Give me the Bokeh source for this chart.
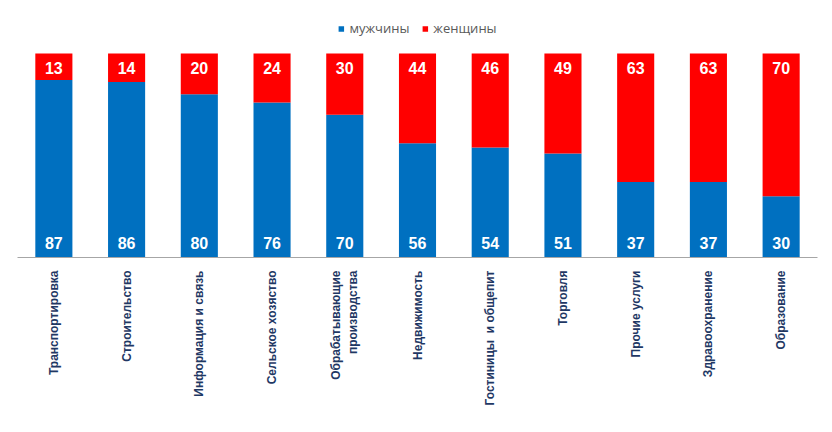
import math
from bokeh.plotting import figure
from bokeh.models import ColumnDataSource, FactorRange, Range1d, Legend, LegendItem
from bokeh.core.properties import value
from bokeh.embed import file_html
from bokeh.resources import INLINE

categories = ["Транспортировка", "Строительство", "Информация и связь", "Сельское хозяство",
              "Обрабатывающие\nпроизводства", "Недвижимость", "Гостиницы\u00a0 и общепит",
              "Торговля", "Прочие услуги", "Здравоохранение", "Образование"]
men = [87, 86, 80, 76, 70, 56, 54, 51, 37, 37, 30]
women = [13, 14, 20, 24, 30, 44, 46, 49, 63, 63, 70]
series_names = ["мужчины", "женщины"]
colors = ["#0070C0", "#FF0000"]

top = [m + w for m, w in zip(men, women)]
src = ColumnDataSource(dict(cat=categories, men=men, women=women, top=top,
                            zero=[0] * len(men),
                            men_txt=[str(v) for v in men],
                            women_txt=[str(v) for v in women]))

p = figure(width=826, height=416, x_range=FactorRange(*categories), y_range=Range1d(0, 117.2),
           output_backend="svg", toolbar_location=None,
           min_border_left=17, min_border_right=9, min_border_top=18, min_border_bottom=159)

r_men = p.vbar(x="cat", bottom="zero", top="men", width=0.51, source=src,
               fill_color=colors[0], line_color=None)
r_women = p.vbar(x="cat", bottom="men", top="top", width=0.51, source=src,
                 fill_color=colors[1], line_color=None)

p.text(x="cat", y="zero", text="men_txt", source=src, text_color="white",
       text_font=value("Liberation Sans"), text_font_style="bold", text_font_size="16px",
       text_align="center", text_baseline="bottom", y_offset=-9)
p.text(x="cat", y="top", text="women_txt", source=src, text_color="white",
       text_font=value("Liberation Sans"), text_font_style="bold", text_font_size="16px",
       text_align="center", text_baseline="top", y_offset=8)

p.yaxis.visible = False
p.grid.visible = False
p.outline_line_color = None

ax = p.xaxis[0]
ax.axis_line_color = "#A6A6A6"
ax.major_tick_line_color = None
ax.minor_tick_line_color = None
ax.major_label_orientation = math.pi / 2
ax.major_label_text_font = "Liberation Sans"
ax.major_label_text_font_style = "bold"
ax.major_label_text_font_size = "12px"
ax.major_label_text_color = "#1F3864"
ax.major_label_standoff = 7
ax.major_label_text_align = "center"

legend = Legend(items=[LegendItem(label=series_names[0], renderers=[r_men]),
                       LegendItem(label=series_names[1], renderers=[r_women])],
                orientation="horizontal", location="top_center",
                border_line_color=None, background_fill_alpha=0,
                label_text_font="Open Sans", label_text_font_size="13px",
                label_text_color="#595959", glyph_width=7, glyph_height=7,
                spacing=12, label_standoff=5, padding=0, margin=1)
p.add_layout(legend)

open("out.html", "w").write(file_html(p, INLINE))
